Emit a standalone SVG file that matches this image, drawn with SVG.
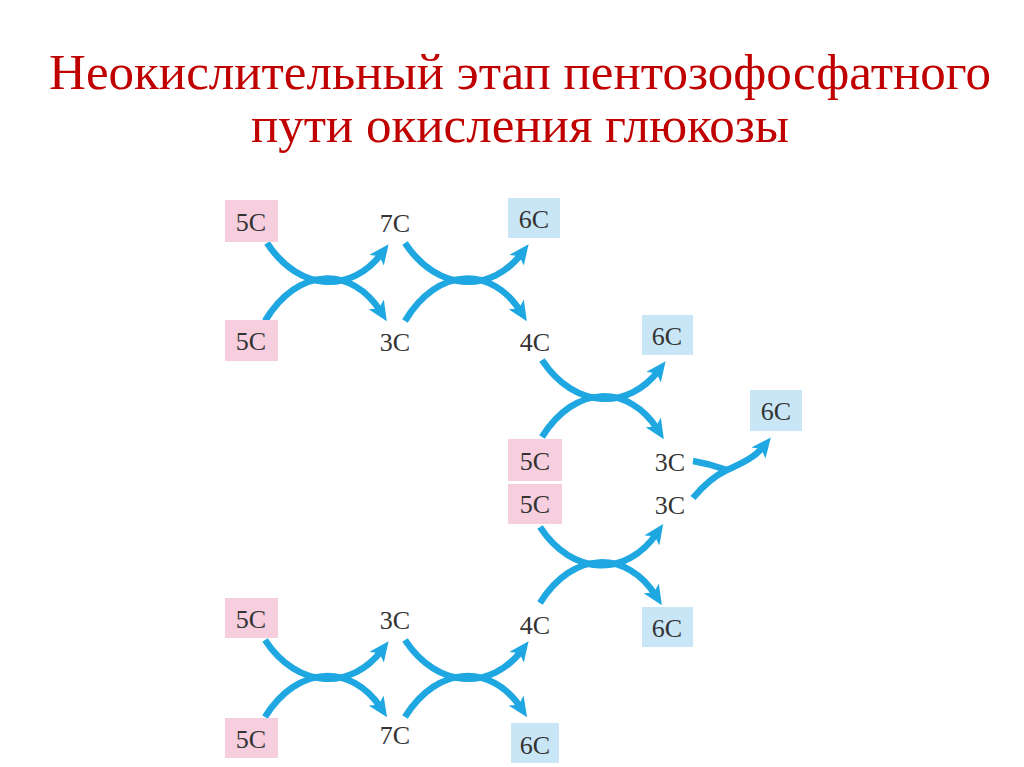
<svg xmlns="http://www.w3.org/2000/svg" width="1024" height="767" viewBox="0 0 1024 767">
<style>
.title{font-family:"Liberation Serif","Times New Roman",serif;font-size:51px;fill:#c00000;text-anchor:middle}
.lbl{font-family:"Liberation Serif","Times New Roman",serif;font-size:26px;fill:#333;text-anchor:middle}
.pink{fill:#f6cede}
.blue{fill:#c9e6f6}
.arc{fill:none;stroke:#1ea7e1;stroke-width:6.5;stroke-linecap:butt}
</style>
<defs>
<marker id="ah" viewBox="0 0 20 18" refX="9" refY="9" markerWidth="20" markerHeight="18" markerUnits="userSpaceOnUse" orient="auto">
<path d="M0,0 L20,9 L0,18 L5,9 z" fill="#1ea7e1"/>
</marker>
</defs>
<rect width="1024" height="767" fill="#fff"/>
<text class="title" x="520" y="89">Неокислительный этап пентозофосфатного</text>
<text class="title" x="520" y="142">пути окисления глюкозы</text>

<g id="connectors">
<path class="arc" marker-end="url(#ah)" d="M267,243 C300,293 352,293 382,253"/>
<path class="arc" marker-end="url(#ah)" d="M265,321 C298,266 352,266 381,312"/>
<path class="arc" marker-end="url(#ah)" d="M405,243 C438,293 492,293 522,253"/>
<path class="arc" marker-end="url(#ah)" d="M405,321 C438,266 492,266 521,312"/>
<path class="arc" marker-end="url(#ah)" d="M542,360 C575,410 629,410 659,370"/>
<path class="arc" marker-end="url(#ah)" d="M542,437 C575,384 629,384 658,430"/>
<path class="arc" marker-end="url(#ah)" d="M540,527 C573,577 627,577 657,533"/>
<path class="arc" marker-end="url(#ah)" d="M540,603 C573,550 627,550 656,596"/>
<path class="arc" marker-end="url(#ah)" d="M265,640 C298,690 352,690 382,650"/>
<path class="arc" marker-end="url(#ah)" d="M265,717 C298,664 352,664 381,708"/>
<path class="arc" marker-end="url(#ah)" d="M405,640 C438,690 492,690 522,650"/>
<path class="arc" marker-end="url(#ah)" d="M405,717 C438,664 492,664 521,708"/>
<path class="arc" d="M693,461 C705,463 716,466 727,470"/>
<path class="arc" marker-end="url(#ah)" d="M693,498 C703,486 714,476 727,470 C745,462 756,456 764,446"/>
</g>

<g id="n1"><rect class="pink" x="225" y="200" width="53" height="42"/><text class="lbl" x="251" y="231">5C</text></g>
<g id="n2"><text class="lbl" x="395" y="232">7C</text></g>
<g id="n3"><rect class="blue" x="508" y="198" width="52" height="40"/><text class="lbl" x="534" y="228">6C</text></g>
<g id="n4"><rect class="pink" x="225" y="320" width="53" height="41"/><text class="lbl" x="251" y="350">5C</text></g>
<g id="n5"><text class="lbl" x="395" y="351">3C</text></g>
<g id="n6"><text class="lbl" x="535" y="351">4C</text></g>
<g id="n7"><rect class="blue" x="642" y="315" width="51" height="40"/><text class="lbl" x="667" y="345">6C</text></g>
<g id="n8"><rect class="blue" x="750" y="390" width="52" height="41"/><text class="lbl" x="776" y="420">6C</text></g>
<g id="n9"><rect class="pink" x="508" y="439" width="54" height="42"/><text class="lbl" x="535" y="470">5C</text></g>
<g id="n10"><text class="lbl" x="670" y="471">3C</text></g>
<g id="n11"><rect class="pink" x="508" y="484" width="54" height="40"/><text class="lbl" x="535" y="513">5C</text></g>
<g id="n12"><text class="lbl" x="670" y="514">3C</text></g>
<g id="n13"><rect class="pink" x="225" y="598" width="53" height="40"/><text class="lbl" x="251" y="628">5C</text></g>
<g id="n14"><text class="lbl" x="395" y="629">3C</text></g>
<g id="n15"><text class="lbl" x="535" y="634">4C</text></g>
<g id="n16"><rect class="blue" x="642" y="607" width="51" height="40"/><text class="lbl" x="667" y="637">6C</text></g>
<g id="n17"><rect class="pink" x="225" y="718" width="53" height="40"/><text class="lbl" x="251" y="748">5C</text></g>
<g id="n18"><text class="lbl" x="395" y="744">7C</text></g>
<g id="n19"><rect class="blue" x="511" y="723" width="48" height="40"/><text class="lbl" x="535" y="754">6C</text></g>
</svg>
